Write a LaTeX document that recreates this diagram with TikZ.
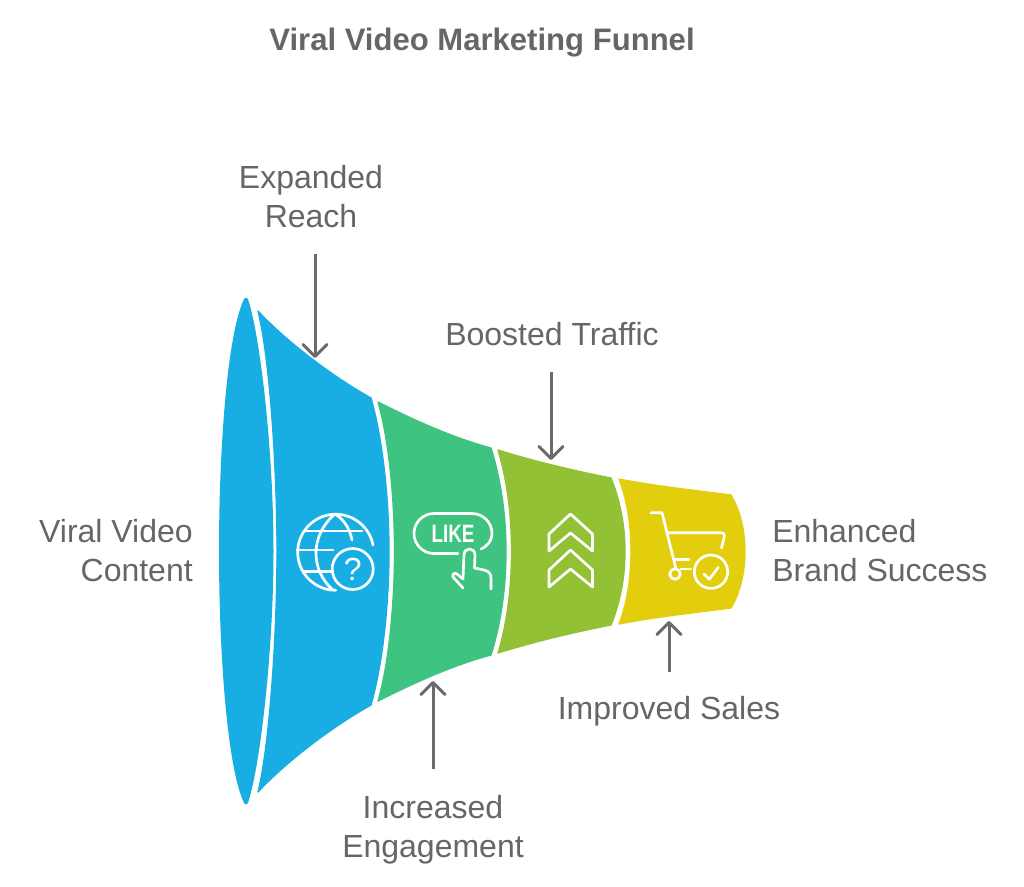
\documentclass[tikz,border=0pt]{standalone}
\usepackage{fontspec}
\setmainfont{Liberation Sans}
\usetikzlibrary{arrows.meta}
\definecolor{funnelblue}{HTML}{19AEE3}
\definecolor{funnelgreen}{HTML}{3FC380}
\definecolor{funnellime}{HTML}{92C135}
\definecolor{funnelyellow}{HTML}{E3CE0D}
\definecolor{labelgray}{HTML}{666666}
\definecolor{arrowgray}{HTML}{6B6B6B}

\begin{document}
\begin{tikzpicture}[x=0.75pt,y=-0.75pt]
	
	\tikzset{segment/.style={fill=#1,draw=#1,line width=1pt,line join=round},
		lens/.style={fill=#1,draw=#1,line width=3pt,line join=round},
		funnel label/.style={text=labelgray,font=\fontsize{24}{29.25}\selectfont,inner sep=0pt},
		flow arrow/.style={draw=arrowgray,line width=2.25pt,-{Straight Barb[length=9pt,width=18pt,round]}},
		icon/.style={draw=white,line width=2pt,line cap=round,line join=round}
	}
	
	\useasboundingbox (0,0) rectangle (1024,886);
	
	\node[text=labelgray,font=\fontsize{23.3}{26}\selectfont\bfseries,inner sep=0pt] (title) at (482,43) {Viral Video Marketing Funnel};
	
	% funnel
	\path[lens=funnelblue] (246,299.5) .. controls (229,335) and (221,450) .. (221,551) .. controls (221,652) and (229,767) .. (246,802.5) .. controls (258,767) and (271.5,652) .. (271.5,551) .. controls (271.5,450) and (258,335) .. (246,299.5) -- cycle;
	\path[segment=funnelblue] (258,311) .. controls (285,340) and (330,375) .. (371,398) .. controls (383,440) and (389,500) .. (389,551.5) .. controls (389,603) and (383,663) .. (371,705) .. controls (330,728) and (285,763) .. (258,792) .. controls (270,742) and (277,632) .. (277,551.5) .. controls (277,470) and (270,360) .. (258,311) -- cycle;
	\path[segment=funnelgreen] (378,402) .. controls (410,418) and (450,437) .. (491,448) .. controls (501,480) and (506,515) .. (506,551.5) .. controls (506,588) and (501,623) .. (491,655) .. controls (450,666) and (410,685) .. (378,701) .. controls (389,663) and (394.5,603) .. (394.5,551.5) .. controls (394.5,500) and (389,440) .. (378,402) -- cycle;
	\path[segment=funnellime] (498,450) .. controls (530,460) and (570,470) .. (611,478) .. controls (620,500) and (625,525) .. (625,551.5) .. controls (625,578) and (620,603) .. (611,625) .. controls (570,633) and (530,643) .. (498,653) .. controls (507,623) and (511.5,588) .. (511.5,551.5) .. controls (511.5,515) and (507,480) .. (498,450) -- cycle;
	\path[segment=funnelyellow] (619,479) .. controls (655,486) and (700,491) .. (731,495) .. controls (740,510) and (745,530) .. (745,551.5) .. controls (745,573) and (740,593) .. (731,608) .. controls (700,612) and (655,617) .. (619,624) .. controls (627,603) and (631,578) .. (631,551.5) .. controls (631,525) and (627,500) .. (619,479) -- cycle;
	
	% labels
	\node[funnel label,align=center] (reach) at (311,197) {Expanded\\Reach};
	\node[funnel label] (traffic) at (552,334) {Boosted Traffic};
	\node[funnel label,align=right,anchor=east] (content) at (193,551) {Viral Video\\Content};
	\node[funnel label,align=left,anchor=west] (success) at (772,551) {Enhanced\\Brand Success};
	\node[funnel label] (sales) at (669,711) {Improved Sales};
	\node[funnel label,align=center] (engagement) at (433,830) {Increased\\Engagement};
	
	\coordinate (reach tip) at (315,358);
	\coordinate (traffic tip) at (551,460);
	\coordinate (engagement tip) at (433,681);
	\coordinate (sales tip) at (669,621);
	
	\draw[flow arrow,shorten <=19pt] (reach.south -| reach tip) -- (reach tip);
	\draw[flow arrow,shorten <=19.5pt] (traffic.south -| traffic tip) -- (traffic tip);
	\draw[flow arrow,shorten <=20pt] (engagement.north) -- (engagement tip);
	\draw[flow arrow,shorten <=18pt] (sales.north) -- (sales tip);
	
	% globe
	\draw[icon] (373,545) arc (-11:-270:38) coordinate (globe bottom);
	\draw[icon] (335,514) .. controls (310,535) and (310,570) .. (333,590);
	\draw[icon] (335,514) .. controls (345,520) and (350,530) .. (352,540);
	\draw[icon] (305,531) -- (362,531);
	\draw[icon] (297,550) -- (333,550);
	\draw[icon] (304,571.5) -- (332,571.5);
	\draw[icon] (352.7,569) circle (20.5);
	\node[text=white,font=\fontsize{24}{24}\selectfont,inner sep=0pt] (question) at (352.7,569) {?};
	
	% like button
	\draw[icon] (458,553.5) -- (434,553.5) arc (90:270:20) -- (472,513.5) arc (-90:0:20) .. controls (492,540) and (488,546) .. (481,549);
	\node[text=white,font=\fontsize{18.8}{19}\selectfont\bfseries,inner sep=0pt] (like) at (453,533.5) {\scalebox{.75}[1]{LIKE}};
	\draw[icon] (463,588) -- (453,577) .. controls (452,574) and (455,572) .. (457,574) -- (463,579) -- (464,555) .. controls (464,547) and (475,547) .. (475,555) -- (474.5,568) -- (484,570) .. controls (489,571) and (491,574) .. (491,578) -- (491,589);
	
	% chevrons
	\foreach \chevy in {514,550}
	\draw[icon] (570.5,\chevy) -- (592.5,\chevy+20) -- (592.5,\chevy+37) -- (570.5,\chevy+19) -- (549,\chevy+37) -- (549,\chevy+20) -- cycle;
	
	% cart
	\draw[icon] (651,512.7) -- (662,512.7) -- (676,569);
	\draw[icon] (668,532.7) -- (721,532.7) .. controls (724,532.7) and (725,535) .. (724,538) -- (721.5,548);
	\draw[icon] (674,559.3) -- (689,559.3);
	\draw[icon] (680.7,569) -- (690.7,569);
	\draw[icon] (675,574) circle (5.3);
	\draw[icon] (711,571.7) circle (16.7);
	\draw[icon] (704,574) -- (709.3,579.3) -- (718.3,567.3);
	
\end{tikzpicture}
\end{document}
